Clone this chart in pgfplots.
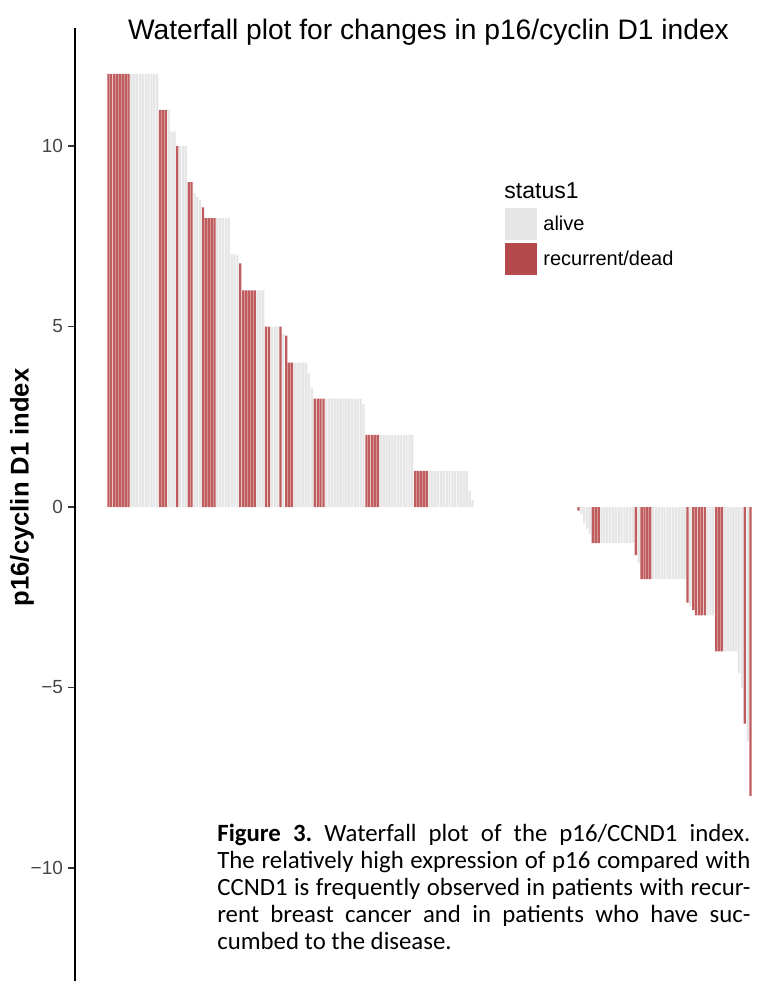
\documentclass[border=0pt]{standalone}
\usepackage{pgfplots}
\pgfplotsset{compat=1.18}
\usepackage{fontspec}
\setmainfont{Liberation Sans}
\newfontfamily\capfont{Carlito}
\definecolor{aliveGray}{RGB}{230,230,230}
\definecolor{deadRed}{RGB}{180,74,76}
\definecolor{barRed}{RGB}{190,92,94}
\definecolor{tickgray}{RGB}{70,70,70}
\begin{document}
\begin{tikzpicture}[x=1pt,y=1pt]
\useasboundingbox (0,0) rectangle (378,490.5);
\begin{axis}[
  at={(37.5pt,0pt)}, anchor=south west,
  scale only axis, width=340.5pt, height=476.5pt,
  xmin=-10.66, xmax=226.9, ymin=-13.13, ymax=13.27,
  axis x line=none, axis y line=left,
  y axis line style={-, line width=1pt, black},
  ytick={-10,-5,0,5,10}, yticklabels={−10,−5,0,5,10},
  tick align=outside, major tick length=3.5pt,
  ytick style={line width=0.9pt, color=black!80},
  yticklabel style={font=\fontsize{9.5}{11}\selectfont, text=tickgray, xshift=1pt},
  ylabel={p16/cyclin D1 index},
  ylabel style={font=\fontsize{12.8}{14}\selectfont\bfseries, at={(axis description cs:-0.0778,0.518)}, anchor=center},
  legend style={at={(axis description cs:0.6314,0.8111)}, anchor=north west, draw=none, fill=none, inner sep=0pt, row sep=1.5pt, font=\fontsize{10}{12}\selectfont, cells={anchor=west}, nodes={inner sep=0pt}},
]
\addplot[ybar, bar width=0.8, bar shift=0pt, fill=aliveGray, draw=none,
  legend image code/.code={\fill[aliveGray] (0pt,-8pt) rectangle (16pt,8pt);}] coordinates {
(9,12)(10,12)(11,12)(12,12)(13,12)(14,12)(15,12)(16,12)(17,12)(18,12)
(22,11)(23,10.4)(24,10.4)(26,10)(27,10)(28,10)
(31,8.7)(32,8.6)(33,8.5)
(39,8)(40,8)(41,8)(42,8)(43,8)(44,7)(45,7)(46,7)
(53,6)(54,6)(55,6)(58,5)(59,5)(60,5)(62,4.8)
(66,4)(67,4)(68,4)(69,4)(70,4)(71,3.7)(72,3.3)
(77,3)(78,3)(79,3)(80,3)(81,3)(82,3)(83,3)(84,3)(85,3)(86,3)(87,3)(88,3)(89,3)(90,2.85)
(96,2)(97,2)(98,2)(99,2)(100,2)(101,2)(102,2)(103,2)(104,2)(105,2)(106,2)(107,2)
(113,1)(114,1)(115,1)(116,1)(117,1)(118,1)(119,1)(120,1)(121,1)(122,1)(123,1)(124,1)(125,1)(126,1)
(127,0.45)(128,0.2)
(166,-0.2)(167,-0.45)(168,-0.6)(169,-0.75)
(173,-1)(174,-1)(175,-1)(176,-1)(177,-1)(178,-1)(179,-1)(180,-1)(181,-1)(182,-1)(183,-1)(184,-1)
(186,-1.55)
(191,-2)(192,-2)(193,-2)(194,-2)(195,-2)(196,-2)(197,-2)(198,-2)(199,-2)(200,-2)(201,-2)(202,-2)
(204,-2.75)(210,-3)(211,-3)(212,-3)
(216,-4)(217,-4)(218,-4)(219,-4)(220,-4)(221,-4.6)(222,-5)(224,-6.5)
};
\addlegendentry{\hspace*{3pt}alive}
\addplot[ybar, bar width=0.8, bar shift=0pt, fill=barRed, draw=none,
  legend image code/.code={\fill[deadRed] (0pt,-8pt) rectangle (16pt,8pt);}] coordinates {
(1,12)(2,12)(3,12)(4,12)(5,12)(6,12)(7,12)(8,12)
(19,11)(20,11)(21,11)(25,10)(29,9)(30,9)(34,8.3)
(35,8)(36,8)(37,8)(38,8)(47,6.75)
(48,6)(49,6)(50,6)(51,6)(52,6)
(56,5)(57,5)(61,5)(63,4.75)(64,4)(65,4)
(73,3)(74,3)(75,3)(76,3)
(91,2)(92,2)(93,2)(94,2)(95,2)
(108,1)(109,1)(110,1)(111,1)(112,1)
(165,-0.1)(170,-1)(171,-1)(172,-1)(185,-1.33)
(187,-2)(188,-2)(189,-2)(190,-2)
(203,-2.65)(205,-2.85)(206,-3)(207,-3)(208,-3)(209,-3)
(213,-4)(214,-4)(215,-4)(223,-6)(225,-8)
};
\addlegendentry{\hspace*{3pt}recurrent/dead}
\node[anchor=base west, font=\fontsize{11.5}{13}\selectfont, inner sep=0pt] at (axis description cs:0.6300,0.8216) {status1};
\end{axis}
\node[anchor=base, font=\fontsize{14.1}{16}\selectfont, inner sep=0pt] at (214.25,470.5) {Waterfall plot for changes in p16/cyclin D1 index};
\node[anchor=base west, inner sep=0pt, text width=266.5pt, align=justify, font={\capfont\fontsize{12.4}{13.5}\selectfont}] at (108.5,69.8) {\frenchspacing\hyphenpenalty=10000\textbf{Figure 3.} Waterfall plot of the p16/CCND1 index.\linebreak The relatively high expression of p16 compared with\linebreak CCND1 is frequently observed in patients with recur-\linebreak rent breast cancer and in patients who have suc-\linebreak cumbed to the disease.};
\end{tikzpicture}
\end{document}
